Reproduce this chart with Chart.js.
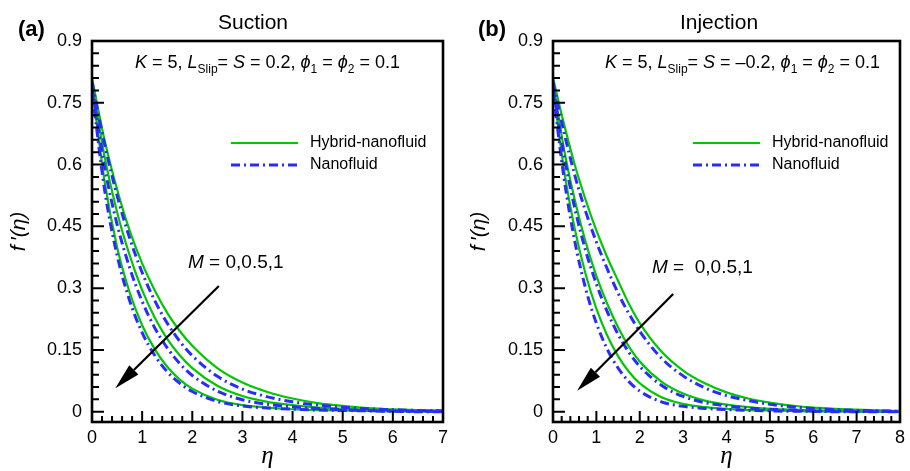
<!DOCTYPE html>
<html>
<head>
<meta charset="utf-8">
<script src="https://cdn.jsdelivr.net/npm/chart.js@4.4.1/dist/chart.umd.min.js"></script>
<style>
  html, body { margin: 0; padding: 0; background: #fff; }
  #wrap { position: relative; width: 910px; height: 471px; }
  canvas { position: absolute; top: 0; }
  #suction { left: 0; }
  #injection { left: 455px; }
</style>
</head>
<body>
<div id="wrap">
  <canvas id="suction" width="455" height="471"></canvas>
  <canvas id="injection" width="455" height="471"></canvas>
</div>
<script>
// magnetic parameter values, outer curve first
const mValues = ['0', '0.5', '1'];

// similarity variable
const etaSuction = [0, 0.25, 0.5, 0.75, 1, 1.25, 1.5, 1.75, 2, 2.5, 3, 3.5, 4, 4.5, 5, 5.5, 6, 6.5, 7];
const etaInjection = [0, 0.25, 0.5, 0.75, 1, 1.25, 1.5, 1.75, 2, 2.5, 3, 3.5, 4, 4.5, 5, 5.5, 6, 6.5, 7, 7.5, 8];

// f'(eta), suction (S = 0.2)
const hybridSuctionM0  = [0.81, 0.66, 0.54, 0.44, 0.36, 0.295, 0.24, 0.196, 0.16, 0.106, 0.071, 0.048, 0.032, 0.021, 0.014, 0.009, 0.006, 0.004, 0.003];
const hybridSuctionM05 = [0.80, 0.62, 0.485, 0.38, 0.295, 0.229, 0.177, 0.137, 0.106, 0.063, 0.038, 0.024, 0.016, 0.010, 0.007, 0.005, 0.003, 0.002, 0.001];
const hybridSuctionM1  = [0.79, 0.56, 0.40, 0.29, 0.21, 0.152, 0.109, 0.078, 0.056, 0.029, 0.016, 0.010, 0.006, 0.004, 0.003, 0.002, 0.001, 0.001, 0];
const nanoSuctionM0    = [0.80, 0.65, 0.525, 0.422, 0.338, 0.27, 0.215, 0.171, 0.136, 0.086, 0.055, 0.036, 0.024, 0.016, 0.011, 0.007, 0.005, 0.003, 0.002];
const nanoSuctionM05   = [0.79, 0.595, 0.455, 0.35, 0.268, 0.204, 0.155, 0.117, 0.088, 0.050, 0.029, 0.018, 0.012, 0.008, 0.005, 0.003, 0.002, 0.001, 0.001];
const nanoSuctionM1    = [0.78, 0.54, 0.38, 0.27, 0.192, 0.137, 0.097, 0.069, 0.049, 0.025, 0.014, 0.009, 0.006, 0.004, 0.003, 0.002, 0.001, 0, 0];

// f'(eta), injection (S = -0.2)
const hybridInjectionM0  = [0.81, 0.70, 0.60, 0.515, 0.44, 0.375, 0.318, 0.262, 0.215, 0.146, 0.100, 0.069, 0.047, 0.032, 0.022, 0.015, 0.010, 0.007, 0.005, 0.003, 0.002];
const hybridInjectionM05 = [0.80, 0.64, 0.515, 0.413, 0.33, 0.262, 0.205, 0.158, 0.122, 0.073, 0.044, 0.027, 0.017, 0.011, 0.007, 0.005, 0.003, 0.002, 0.001, 0.001, 0];
const hybridInjectionM1  = [0.79, 0.59, 0.445, 0.335, 0.25, 0.185, 0.135, 0.097, 0.069, 0.035, 0.019, 0.011, 0.007, 0.004, 0.003, 0.002, 0.001, 0.001, 0, 0, 0];
const nanoInjectionM0    = [0.80, 0.68, 0.575, 0.487, 0.412, 0.347, 0.288, 0.238, 0.195, 0.13, 0.087, 0.058, 0.039, 0.027, 0.018, 0.012, 0.008, 0.005, 0.003, 0.002, 0.001];
const nanoInjectionM05   = [0.79, 0.625, 0.495, 0.392, 0.31, 0.243, 0.188, 0.144, 0.110, 0.064, 0.037, 0.022, 0.014, 0.009, 0.006, 0.004, 0.002, 0.002, 0.001, 0.001, 0];
const nanoInjectionM1    = [0.78, 0.57, 0.415, 0.30, 0.215, 0.152, 0.106, 0.073, 0.050, 0.024, 0.013, 0.008, 0.005, 0.003, 0.002, 0.001, 0.001, 0, 0, 0, 0];

// axis ticks
const yTicks = [0, 0.15, 0.3, 0.45, 0.6, 0.75, 0.9];
const yTickLabels = ['0', '0.15', '0.3', '0.45', '0.6', '0.75', '0.9'];
const xTicksSuction = [0, 1, 2, 3, 4, 5, 6, 7];
const xTicksInjection = [0, 1, 2, 3, 4, 5, 6, 7, 8];

const SANS = '"Liberation Sans", Arial, "DejaVu Sans", sans-serif';
const SERIF = '"Liberation Serif", "DejaVu Serif", serif';
const GREEN = '#00c800';
const BLUE = '#2b2bff';
const BLUE_DASH = [9, 4, 2, 4];

function series(eta, vals) {
  return vals.map((v, i) => ({ x: eta[i], y: v }));
}

function makeDatasets(eta, hybrid, nano) {
  const ds = [];
  hybrid.forEach((vals, k) => ds.push({
    label: 'Hybrid-nanofluid, M = ' + mValues[k],
    data: series(eta, vals),
    borderColor: GREEN, borderWidth: 2.2, order: 1
  }));
  nano.forEach((vals, k) => ds.push({
    label: 'Nanofluid, M = ' + mValues[k],
    data: series(eta, vals),
    borderColor: BLUE, borderWidth: 3, borderDash: BLUE_DASH, order: 0
  }));
  return ds;
}

// draws a string made of normal / italic / subscript pieces
function drawRich(ctx, parts, x, y, size) {
  let cx = x;
  ctx.textAlign = 'left';
  ctx.textBaseline = 'middle';
  for (const p of parts) {
    const sz = p.sub ? Math.round(size * 0.66) : size;
    ctx.font = (p.it ? 'italic ' : '') + sz + 'px ' + SANS;
    ctx.fillText(p.t, cx, p.sub ? y + size * 0.36 : y);
    cx += ctx.measureText(p.t).width;
  }
}

// box around the plot with inward major/minor ticks on the left and bottom
const frameTicks = {
  id: 'frameTicks',
  afterDraw(chart) {
    const { ctx, chartArea: a, scales: { x, y } } = chart;
    ctx.save();
    ctx.strokeStyle = '#000';
    ctx.lineWidth = 2;
    ctx.beginPath();
    const xSteps = Math.round(x.max / 0.2);
    for (let i = 0; i <= xSteps; i++) {
      const px = x.getPixelForValue(i * 0.2);
      const len = i % 5 === 0 ? 11 : 6;
      ctx.moveTo(px, a.bottom);
      ctx.lineTo(px, a.bottom - len);
    }
    for (let i = 0; i <= 30; i++) {
      const py = y.getPixelForValue(i * 0.03);
      const len = i % 5 === 0 ? 12 : 7;
      ctx.moveTo(a.left, py);
      ctx.lineTo(a.left + len, py);
    }
    ctx.stroke();
    ctx.lineWidth = 2.6;
    ctx.strokeRect(a.left, a.top, a.right - a.left, a.bottom - a.top);
    ctx.restore();
  }
};

// title, panel letter, parameter line, legend and the M arrow
const panelNotes = {
  id: 'panelNotes',
  afterDraw(chart) {
    const o = chart.options.plugins.panelNotes;
    const { ctx, scales: { x, y } } = chart;
    ctx.save();
    ctx.fillStyle = '#000';
    ctx.textBaseline = 'middle';

    ctx.font = '21px ' + SANS;
    ctx.textAlign = 'center';
    ctx.fillText(o.title, o.titleX, 23);

    ctx.font = 'bold 22px ' + SANS;
    ctx.textAlign = 'left';
    ctx.fillText(o.panel, o.panelX, 30);

    drawRich(ctx, o.params, o.paramsX, 63, 18);

    // legend entries use the dataset styles
    const entries = [
      { ds: chart.data.datasets[0], text: 'Hybrid-nanofluid', y: 143 },
      { ds: chart.data.datasets[3], text: 'Nanofluid', y: 165 }
    ];
    for (const e of entries) {
      ctx.beginPath();
      ctx.strokeStyle = e.ds.borderColor;
      ctx.lineWidth = e.ds.borderWidth;
      ctx.setLineDash(e.ds.borderDash || []);
      ctx.moveTo(o.legendX, e.y);
      ctx.lineTo(o.legendX + 67, e.y);
      ctx.stroke();
      ctx.setLineDash([]);
      ctx.font = '16px ' + SANS;
      ctx.fillStyle = '#000';
      ctx.textAlign = 'left';
      ctx.fillText(e.text, o.legendX + 79, e.y);
    }

    drawRich(ctx, [{ t: 'M', it: true }, { t: o.mText }], o.mX, o.mY, 19);

    // arrow pointing towards increasing M
    const x0 = x.getPixelForValue(o.arrow[0]), y0 = y.getPixelForValue(o.arrow[1]);
    const x1 = x.getPixelForValue(o.arrow[2]), y1 = y.getPixelForValue(o.arrow[3]);
    const ang = Math.atan2(y1 - y0, x1 - x0);
    const head = 26, half = 6.5;
    const bx = x1 - head * Math.cos(ang), by = y1 - head * Math.sin(ang);
    ctx.strokeStyle = '#000';
    ctx.lineWidth = 2.2;
    ctx.beginPath();
    ctx.moveTo(x0, y0);
    ctx.lineTo(bx, by);
    ctx.stroke();
    ctx.beginPath();
    ctx.moveTo(x1, y1);
    ctx.lineTo(bx + half * Math.sin(ang), by - half * Math.cos(ang));
    ctx.lineTo(bx - half * Math.sin(ang), by + half * Math.cos(ang));
    ctx.closePath();
    ctx.fill();
    ctx.restore();
  }
};

function makeChart(id, cfg) {
  const ctx = document.getElementById(id).getContext('2d');
  return new Chart(ctx, {
    type: 'line',
    data: { datasets: makeDatasets(cfg.eta, cfg.hybrid, cfg.nano) },
    options: {
      responsive: false,
      animation: false,
      events: [],
      layout: { padding: { left: 0, right: cfg.padRight, top: 41, bottom: 0 } },
      elements: {
        point: { radius: 0 },
        line: { fill: false, cubicInterpolationMode: 'monotone', borderCapStyle: 'butt' }
      },
      scales: {
        x: {
          type: 'linear',
          min: 0,
          max: cfg.xMax,
          afterBuildTicks: s => { s.ticks = cfg.xTicks.map(v => ({ value: v })); },
          afterFit: s => { s.height = 49; },
          ticks: {
            color: '#000', padding: 5, autoSkip: false, maxRotation: 0,
            font: { family: SANS, size: 18 },
            callback: v => String(v)
          },
          grid: { display: false, drawTicks: false },
          border: { display: false },
          title: {
            display: true, text: 'η', color: '#000',
            font: { family: SERIF, size: 25, style: 'italic' },
            padding: { top: 0, bottom: 0 }
          }
        },
        y: {
          type: 'linear',
          min: -0.025,
          max: 0.9,
          afterBuildTicks: s => { s.ticks = yTicks.map(v => ({ value: v })); },
          afterFit: s => { s.width = cfg.yWidth; },
          ticks: {
            color: '#000', padding: 10, autoSkip: false,
            font: { family: SANS, size: 18 },
            callback: (v, i) => yTickLabels[i]
          },
          grid: { display: false, drawTicks: false },
          border: { display: false },
          title: {
            display: true, text: 'f\u2009\u2032(η)', color: '#000',
            font: { family: SANS, size: 21, style: 'italic' },
            padding: { top: cfg.yTitlePad, bottom: 0 }
          }
        }
      },
      plugins: {
        legend: { display: false },
        tooltip: { enabled: false },
        panelNotes: cfg.notes
      }
    },
    plugins: [frameTicks, panelNotes]
  });
}

makeChart('suction', {
  eta: etaSuction,
  hybrid: [hybridSuctionM0, hybridSuctionM05, hybridSuctionM1],
  nano: [nanoSuctionM0, nanoSuctionM05, nanoSuctionM1],
  xMax: 7, xTicks: xTicksSuction, yWidth: 92, padRight: 12, yTitlePad: 7,
  notes: {
    title: 'Suction', titleX: 253, panel: '(a)', panelX: 18,
    paramsX: 135,
    params: [
      { t: 'K', it: true }, { t: ' = 5, ' }, { t: 'L', it: true }, { t: 'Slip', sub: true },
      { t: '= ' }, { t: 'S', it: true }, { t: ' = 0.2, ' },
      { t: 'ϕ', it: true }, { t: '1', sub: true }, { t: ' = ' },
      { t: 'ϕ', it: true }, { t: '2', sub: true }, { t: ' = 0.1' }
    ],
    legendX: 231,
    mText: ' = 0,0.5,1', mX: 188, mY: 263,
    arrow: [2.53, 0.305, 0.465, 0.057]
  }
});

makeChart('injection', {
  eta: etaInjection,
  hybrid: [hybridInjectionM0, hybridInjectionM05, hybridInjectionM1],
  nano: [nanoInjectionM0, nanoInjectionM05, nanoInjectionM1],
  xMax: 8, xTicks: xTicksInjection, yWidth: 98, padRight: 6, yTitlePad: 12,
  notes: {
    title: 'Injection', titleX: 264, panel: '(b)', panelX: 23,
    paramsX: 150,
    params: [
      { t: 'K', it: true }, { t: ' = 5, ' }, { t: 'L', it: true }, { t: 'Slip', sub: true },
      { t: '= ' }, { t: 'S', it: true }, { t: ' = –0.2, ' },
      { t: 'ϕ', it: true }, { t: '1', sub: true }, { t: ' = ' },
      { t: 'ϕ', it: true }, { t: '2', sub: true }, { t: ' = 0.1' }
    ],
    legendX: 238,
    mText: ' =  0,0.5,1', mX: 197, mY: 268,
    arrow: [2.77, 0.286, 0.556, 0.051]
  }
});
</script>
</body>
</html>
